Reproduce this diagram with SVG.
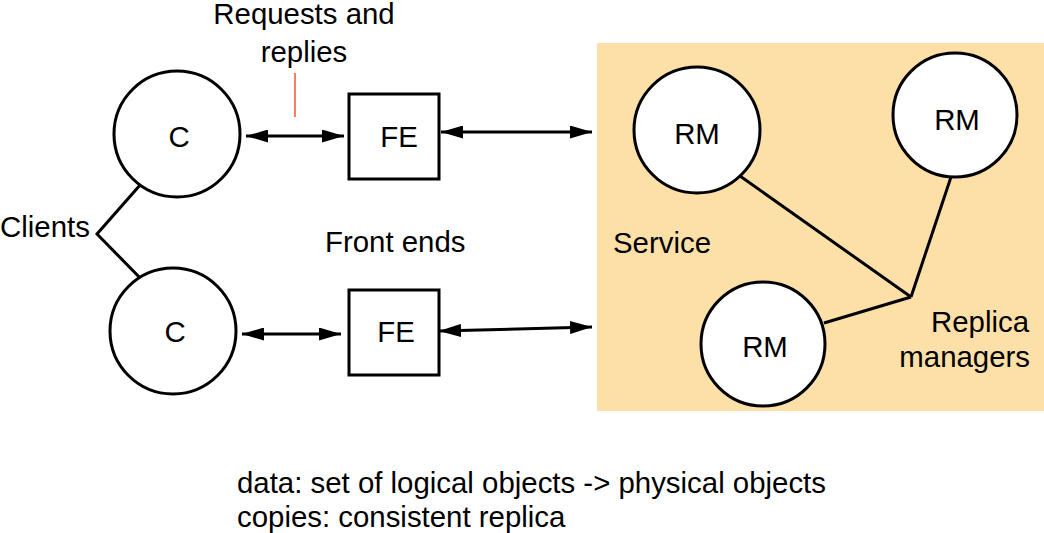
<svg xmlns="http://www.w3.org/2000/svg" width="1044" height="533" viewBox="0 0 1044 533">
<style>
  text { font-family: "Liberation Sans", Arial, sans-serif; font-size: 29.4px; fill: #000; }
  .mid { text-anchor: middle; }
  .end { text-anchor: end; }
  .node { fill: #fff; stroke: #000; stroke-width: 3; }
  .conn { stroke: #000; stroke-width: 3; fill: none; }
</style>
<defs>
  <marker id="ah" viewBox="0 0 22 13" refX="22" refY="6.5" markerWidth="22" markerHeight="13" markerUnits="userSpaceOnUse" orient="auto-start-reverse">
    <path d="M0,0 L22,6.5 L0,13 z" fill="#000"/>
  </marker>
</defs>
<rect width="1044" height="533" fill="#fff"/>

<g id="service">
  <rect x="597" y="43" width="447" height="368" fill="#FDE0A8"/>
  <text x="613" y="253">Service</text>
  <text class="end" x="1029" y="332">Replica</text>
  <text class="end" x="1030" y="367">managers</text>
</g>

<g id="connectors">
  <line class="conn" x1="246" y1="136" x2="344" y2="136" marker-start="url(#ah)" marker-end="url(#ah)"/>
  <line class="conn" x1="441" y1="132" x2="592" y2="132" marker-start="url(#ah)" marker-end="url(#ah)"/>
  <line class="conn" x1="242" y1="334" x2="341" y2="334" marker-start="url(#ah)" marker-end="url(#ah)"/>
  <line class="conn" x1="439" y1="331" x2="592" y2="327" marker-start="url(#ah)" marker-end="url(#ah)"/>
  <polyline class="conn" points="148,176 97,234 148,286"/>
  <line class="conn" x1="740" y1="176" x2="911" y2="297"/>
  <line class="conn" x1="951" y1="177" x2="911" y2="297"/>
  <line class="conn" x1="824" y1="323" x2="911" y2="297"/>
  <line x1="295" y1="73" x2="295" y2="117" stroke="#EE5A2A" stroke-width="1.5"/>
</g>

<g id="c1">
  <circle class="node" cx="177" cy="134" r="63"/>
  <text class="mid" x="179" y="147">C</text>
</g>
<g id="c2">
  <circle class="node" cx="173" cy="331" r="63"/>
  <text class="mid" x="175" y="342">C</text>
</g>
<g id="fe1">
  <rect class="node" x="349" y="94" width="90" height="85"/>
  <text class="mid" x="399" y="147">FE</text>
</g>
<g id="fe2">
  <rect class="node" x="349" y="290" width="90" height="85"/>
  <text class="mid" x="396" y="342">FE</text>
</g>
<g id="rm1">
  <circle class="node" cx="697" cy="130" r="63"/>
  <text class="mid" x="697" y="144">RM</text>
</g>
<g id="rm2">
  <circle class="node" cx="955" cy="115" r="62"/>
  <text class="mid" x="957" y="130">RM</text>
</g>
<g id="rm3">
  <circle class="node" cx="763" cy="344" r="62"/>
  <text class="mid" x="765" y="357">RM</text>
</g>

<g id="labels">
  <text class="mid" x="304" y="24">Requests and</text>
  <text class="mid" x="304" y="62">replies</text>
  <text x="0" y="237">Clients</text>
  <text x="325" y="252">Front ends</text>
  <text x="237" y="493">data: set of logical objects -&gt; physical objects</text>
  <text x="237" y="527">copies: consistent replica</text>
</g>
</svg>
